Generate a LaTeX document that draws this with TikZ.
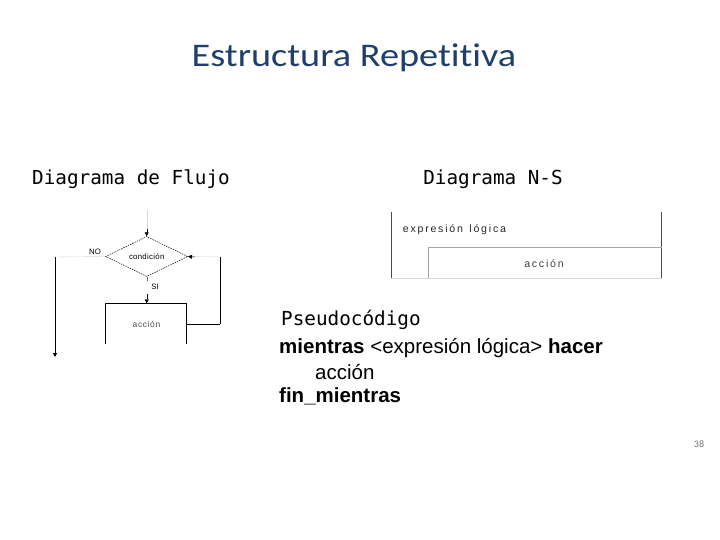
\documentclass[tikz,border=0pt]{standalone}
\usepackage{fontspec}
\setmainfont{Liberation Sans}
\newfontfamily\titlefont[Ligatures={NoCommon,NoContextual},FakeStretch=1.16]{Carlito}
\newfontfamily\pgfont{Carlito}
\newfontfamily\monofont{DejaVu Sans Mono}
\usetikzlibrary{shapes.geometric,arrows.meta}
\definecolor{titleblue}{HTML}{1F3F6B}
\definecolor{faint}{HTML}{D8D8D8}
\begin{document}
\begin{tikzpicture}[x=1pt,y=-1pt,
  lbl/.style={inner sep=0pt},
  small/.style={font=\fontsize{7.8}{9}\selectfont, inner sep=0pt},
  flowline/.style={black, line width=0.8pt},
  tip/.style={-{Triangle[length=4pt,width=4pt]}},
  nsline/.style={line width=0.8pt, black!70},
  nsinner/.style={line width=0.6pt, black!35}]
\useasboundingbox (0,0) rectangle (720,540);
% title
\node[lbl, text=titleblue, font=\titlefont\fontsize{33}{36}\selectfont] (title) at (354,58) {Estructura Repetitiva};
\node[lbl, font=\monofont\fontsize{19.3}{22}\selectfont] (hflujo) at (131,179) {Diagrama de Flujo};
\node[lbl, font=\monofont\fontsize{19.3}{22}\selectfont] (hns) at (493,179) {Diagrama N-S};
% flowchart
\coordinate (top) at (146.7,210);
\node[diamond, draw, dashed, dash pattern=on 1.5pt off 1pt, line width=0.5pt, minimum width=82pt, minimum height=40pt, inner sep=0pt, aspect=2] (cond) at (146.7,256.5) {};
\node[small] (condtxt) at (146.7,256.5) {c\kern0.3pt o\kern0.3pt n\kern0.3pt d\kern0.3pt i\kern0.3pt c\kern0.3pt i\kern0.3pt ó\kern0.3pt n};
\node[small] (no) at (95,252) {NO};
\node[small] (si) at (155,287) {SI};
\draw[faint] (top) -- ++(0,20);
\draw[tip, black] (146.7,229) -- (cond.north);
\coordinate (rtop) at (220,257);
\coordinate (rbot) at (220,324);
\coordinate (ltop) at (55,257);
\coordinate (lbot) at (55,357);
\draw[faint] (cond.east) -- (rtop);
\draw[faint] (cond.west) -- (ltop);
\draw[tip, black] (195,257) -- (cond.east);
\draw[flowline] (rtop) -- (rbot);
\draw[flowline, tip] (ltop) -- (lbot);
% action box (open bottom)
\coordinate (bl) at (105,344);
\coordinate (br) at (186.7,344);
\draw[flowline] (bl) -- (105,303.3) -- (186.7,303.3) -- (br);
\node[small, text=black!70, font=\fontsize{8.5}{10}\selectfont] (acc) at (146.5,324) {a\kern0.6pt c\kern0.6pt c\kern0.6pt i\kern0.6pt ó\kern0.6pt n};
\draw[tip, black] (146.7,294) -- (146.7,303.3);
\draw[flowline] (rbot) -- (186.7,324);
\draw[black!60, line width=0.4pt] (146.7,276.5) -- (146.7,281);
% N-S diagram
\draw[nsline] (391,211.7) -- (391,278.3);
\draw[nsline] (661.7,211.7) -- (661.7,278.3);
\draw[nsinner] (428.3,278.3) -- (428.3,247.7) -- (661.7,247.7);
\draw[faint, line width=0.4pt] (391,278.3) -- (661.7,278.3);
\node[lbl, anchor=west, font=\fontsize{10.6}{12}\selectfont, text=black!85] (expr) at (402.7,229.5) {e\,x\,p\,r\,e\,s\,i\,ó\,n\, \,l\,ó\,g\,i\,c\,a};
\node[lbl, font=\fontsize{10.6}{12}\selectfont, text=black!75] (nsacc) at (544,264) {a\,c\,c\,i\,ó\,n};
% pseudocode
\node[lbl, anchor=west, font=\monofont\fontsize{19.3}{22}\selectfont] (pseudo) at (281,320) {Pseudocódigo};
\node[lbl, anchor=west, font=\fontsize{20.5}{22}\selectfont] (l1) at (279,348) {\textbf{mientras} <expresión lógica> \textbf{hacer}};
\node[lbl, anchor=west, font=\fontsize{20.5}{22}\selectfont] (l2) at (315,372) {acción};
\node[lbl, anchor=west, font=\fontsize{20.5}{22}\selectfont] (l3) at (279,396) {\textbf{fin\_mientras}};
\node[lbl, text=black!55, font=\pgfont\fontsize{10}{12}\selectfont] (pg) at (699,444) {38};
\end{tikzpicture}
\end{document}
